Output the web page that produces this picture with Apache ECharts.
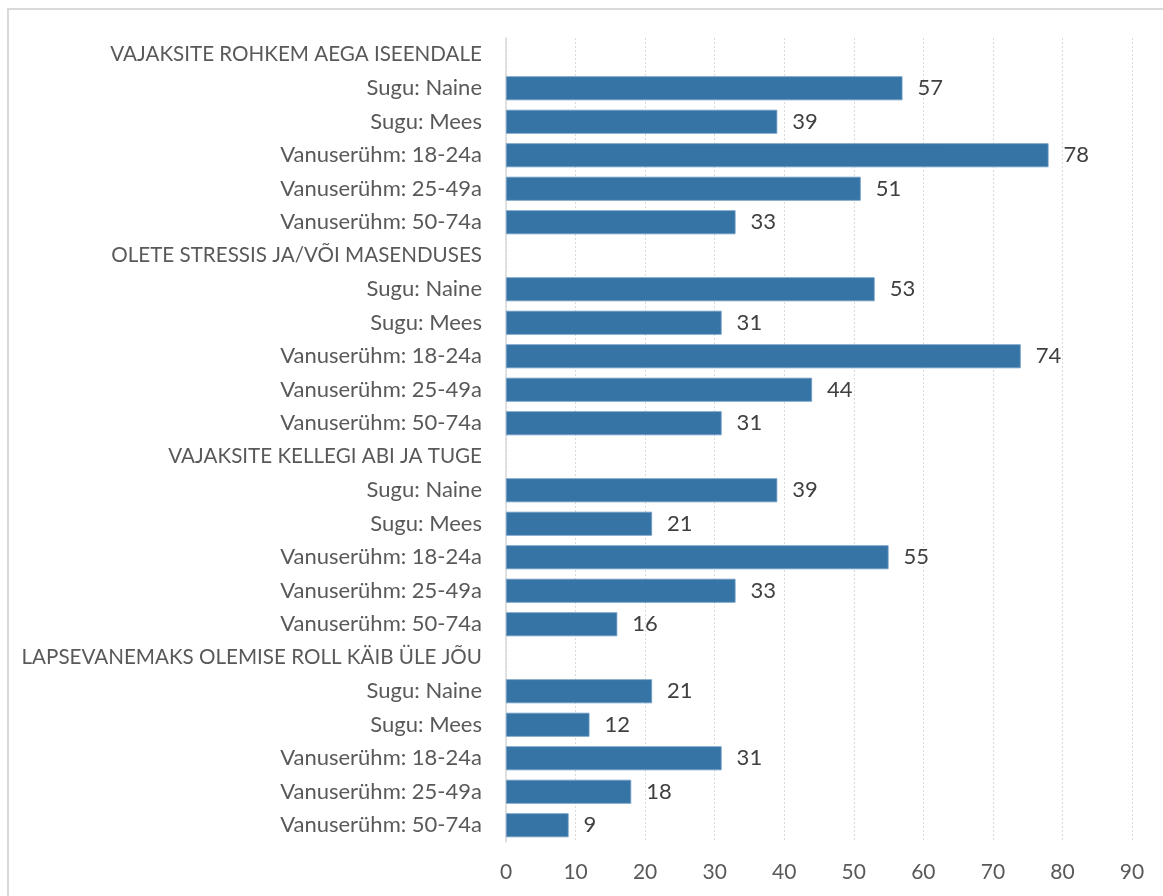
<!DOCTYPE html>
<html><head><meta charset="utf-8">
<script src="https://cdn.jsdelivr.net/npm/echarts@6/dist/echarts.min.js"></script>
<style>html,body{margin:0;padding:0;background:#fff}#c{width:1163px;height:896px}</style>
</head><body><div id="c"></div>
<script>
const categories = [
  "VAJAKSITE ROHKEM AEGA ISEENDALE","Sugu: Naine","Sugu: Mees","Vanuserühm: 18-24a","Vanuserühm: 25-49a","Vanuserühm: 50-74a",
  "OLETE STRESSIS JA/VÕI MASENDUSES","Sugu: Naine","Sugu: Mees","Vanuserühm: 18-24a","Vanuserühm: 25-49a","Vanuserühm: 50-74a",
  "VAJAKSITE KELLEGI ABI JA TUGE","Sugu: Naine","Sugu: Mees","Vanuserühm: 18-24a","Vanuserühm: 25-49a","Vanuserühm: 50-74a",
  "LAPSEVANEMAKS OLEMISE ROLL KÄIB ÜLE JÕU","Sugu: Naine","Sugu: Mees","Vanuserühm: 18-24a","Vanuserühm: 25-49a","Vanuserühm: 50-74a"
];
const group1 = [57, 39, 78, 51, 33];
const group2 = [53, 31, 74, 44, 31];
const group3 = [39, 21, 55, 33, 16];
const group4 = [21, 12, 31, 18, 9];
const xTicks = [0, 10, 20, 30, 40, 50, 60, 70, 80, 90];

const values = [null, ...group1, null, ...group2, null, ...group3, null, ...group4];
const FONT = "Lato";
const chart = echarts.init(document.getElementById('c'), null, {renderer: 'canvas'});
chart.setOption({
  animation: false,
  graphic: [{type: 'rect', shape: {x: 8, y: 9, width: 1300, height: 1000}, style: {fill: 'none', stroke: '#d9d9d9', lineWidth: 2}, silent: true}],
  grid: {left: 506, top: 38, width: 626, height: 804, containLabel: false},
  xAxis: {
    type: 'value', min: xTicks[0], max: xTicks[xTicks.length - 1], interval: 10,
    axisLine: {show: false}, axisTick: {show: false},
    splitLine: {show: true, lineStyle: {color: '#d9d9d9', type: [2, 2], width: 1}},
    axisLabel: {color: '#595959', fontFamily: FONT, fontSize: 21, margin: 20}
  },
  yAxis: {
    type: 'category', data: categories, inverse: true,
    axisLine: {show: true, lineStyle: {color: '#d9d9d9', width: 1.5}},
    axisTick: {show: false},
    axisLabel: {
      color: '#595959', fontFamily: FONT, fontSize: 22, margin: 24,
      formatter: function (v) { return v === v.toUpperCase() ? '{h|' + v + '}' : '{r|' + v + '}'; },
      rich: {
        h: {color: '#595959', fontFamily: FONT, fontSize: 20.6},
        r: {color: '#595959', fontFamily: FONT, fontSize: 22}
      }
    }
  },
  series: [{
    type: 'bar', data: values, barWidth: 24,
    itemStyle: {color: '#3674a6', borderColor: '#6f9cc4', borderWidth: 0.8},
    label: {show: true, position: 'right', distance: 15, color: '#404040', fontFamily: FONT, fontSize: 22}
  }]
});
</script></body></html>
